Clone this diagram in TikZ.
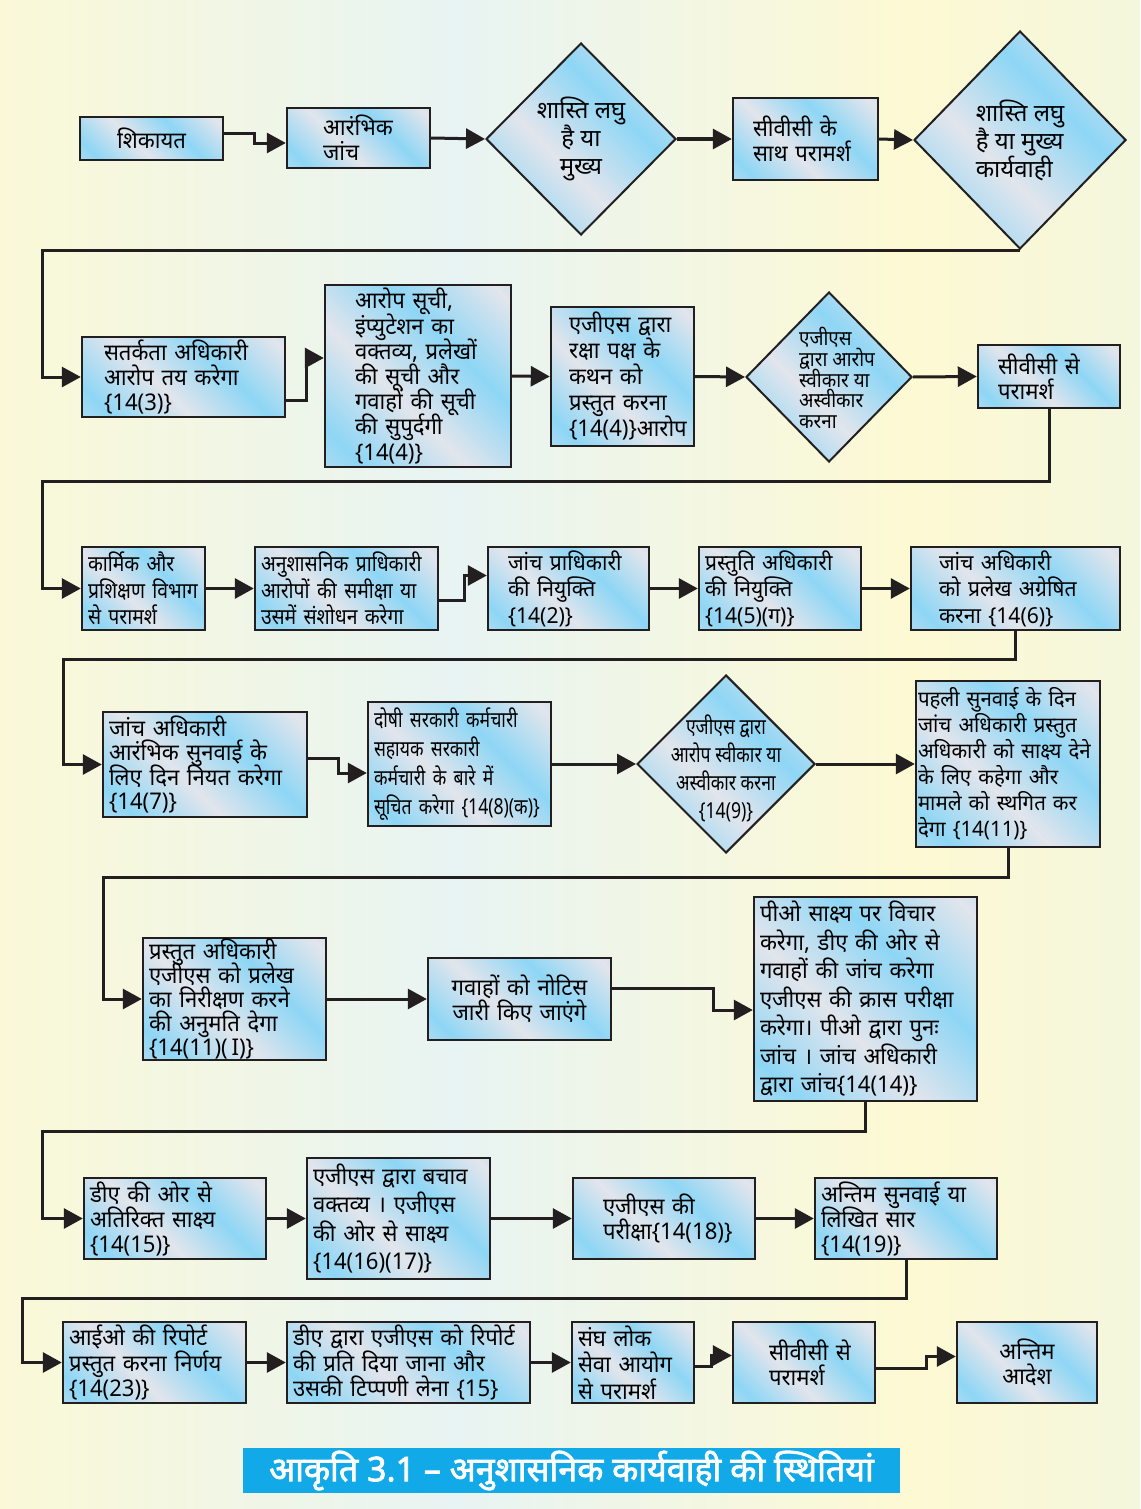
\documentclass[tikz,border=0pt]{standalone}
\usepackage{fontspec}
\usetikzlibrary{arrows.meta,shapes.geometric}
\newfontfamily\dev[Script=Devanagari,FakeStretch=0.96]{Noto Sans}
\newfontfamily\devm[Script=Devanagari,FakeStretch=0.88]{Noto Sans}
\newfontfamily\devd[Script=Devanagari,FakeStretch=0.92]{Noto Sans}
\newfontfamily\devc[Script=Devanagari,FakeStretch=0.8]{Noto Sans}
\newfontfamily\devw[Script=Devanagari,FakeStretch=1.0]{Noto Sans}
\newfontfamily\devb[Script=Devanagari,FakeStretch=1.0,FakeBold=2.2]{Noto Sans}
\lineskiplimit=-100pt
\definecolor{lc}{HTML}{231F20}
\definecolor{bgr}{HTML}{E2E5EC}
\definecolor{bbl}{HTML}{8ED6F5}
\definecolor{capblue}{HTML}{12A9E8}
\definecolor{bga}{HTML}{DDF0F8}
\definecolor{bgy}{HTML}{FDF9D3}
\definecolor{bgm}{HTML}{E8F4F3}
\pgfdeclarehorizontalshading{boxsh}{100bp}{color(0bp)=(bgr);color(22bp)=(bbl);color(42bp)=(bgr);color(62bp)=(bbl);color(82bp)=(bgr);color(100bp)=(bbl)}
\pgfdeclarehorizontalshading{bgsh}{100bp}{color(0bp)=(bga);color(22bp)=(bgy);color(45bp)=(bgm);color(65bp)=(bgy);color(100bp)=(bga)}
\newcommand\mybx[7][]{%
  \pgfmathsetmacro\bw{#5-#3}\pgfmathsetmacro\bh{#6-#4}%
  \pgfmathsetmacro\bcx{(#3+#5)/2}\pgfmathsetmacro\bcy{(#4+#6)/2}%
  \pgfmathsetmacro\btw{#5-#3-12}%
  \node[box,minimum width=\bw pt,minimum height=\bh pt,text width=\btw pt,#1] (#2) at (\bcx,\bcy) {#7};}
\begin{document}
\begin{tikzpicture}[x=1pt,y=-1pt,
  every node/.append style={execute at begin node={\lineskiplimit=-100pt\lineskip=0pt}},
  box/.style={draw=lc,line width=2.4pt,shading=boxsh,shading angle=45,inner sep=0pt,align=left,
    font=\dev\fontsize{23}{25}\selectfont},
  dia/.style={diamond,draw=lc,line width=2pt,shading=boxsh,shading angle=45,inner sep=0pt},
  lbl/.style={align=center,font=\devw\fontsize{24}{28}\selectfont},
  rowc/.style={font=\dev\fontsize{22}{26.5}\selectfont},
  arr/.style={draw=lc,line width=3pt,-{Triangle[length=19pt,width=20pt]}}]
\useasboundingbox (0,0) rectangle (1140,1509);
\shade[shading=bgsh] (0,0) rectangle (1140,1509);
% row 1
\mybx[align=center]{n1}{80}{117}{223}{160}{शिकायत}
\mybx{n2}{287}{108}{430}{168}{\hspace*{30pt}आरंभिक\\\hspace*{30pt}जांच}
\node[dia,minimum width=190pt,minimum height=192pt,label={[lbl]center:शास्ति लघु\\है या\\मुख्य}] (d1) at (581,139) {};
\mybx{n3}{733}{98}{878}{180}{\hspace*{14pt}सीवीसी के\\\hspace*{14pt}साथ परामर्श}
\node[dia,minimum width=212pt,minimum height=218pt,label={[lbl,align=left]center:शास्ति लघु\\है या मुख्य\\कार्यवाही}] (d2) at (1020,140) {};
% row 2
\mybx{n4}{82}{337}{285}{417}{\hspace*{16pt}सतर्कता अधिकारी\\\hspace*{16pt}आरोप तय करेगा\\\hspace*{16pt}\{14(3)\}}
\mybx[font=\dev\fontsize{23}{25.2}\selectfont]{n5}{325}{285}{511}{467}{\hspace*{24pt}आरोप सूची,\\\hspace*{24pt}इंप्युटेशन का\\\hspace*{24pt}वक्तव्य, प्रलेखों\\\hspace*{24pt}की सूची और\\\hspace*{24pt}गवाहों की सूची\\\hspace*{24pt}की सुपुर्दगी\\\hspace*{24pt}\{14(4)\}}
\mybx[font=\dev\fontsize{23}{26}\selectfont]{n6}{551}{307}{694}{446}{\hspace*{12pt}एजीएस द्वारा\\\hspace*{12pt}रक्षा पक्ष के\\\hspace*{12pt}कथन को\\\hspace*{12pt}प्रस्तुत करना\\\hspace*{12pt}\{14(4)\}आरोप}
\node[dia,minimum width=166pt,minimum height=170pt,label={[lbl,align=left,font=\devd\fontsize{20.5}{20.8}\selectfont,xshift=8pt,yshift=-1pt]center:एजीएस\\द्वारा आरोप\\स्वीकार या\\अस्वीकार\\करना}] (d3) at (829,377) {};
\mybx{n7}{978}{345}{1120}{408}{\hspace*{14pt}सीवीसी से\\\hspace*{14pt}परामर्श}
% row 3
\mybx[font=\devm\fontsize{22}{26.5}\selectfont]{n8}{82}{547}{205}{630}{कार्मिक और\\प्रशिक्षण विभाग\\से परामर्श}
\mybx[font=\devm\fontsize{22}{26.5}\selectfont]{n9}{255}{547}{438}{630}{अनुशासनिक प्राधिकारी\\आरोपों की समीक्षा या\\उसमें संशोधन करेगा}
\mybx[rowc]{n10}{488}{547}{649}{630}{\hspace*{14pt}जांच प्राधिकारी\\\hspace*{14pt}की नियुक्ति\\\hspace*{14pt}\{14(2)\}}
\mybx[rowc]{n11}{699}{547}{861}{630}{प्रस्तुति अधिकारी\\की नियुक्ति\\\{14(5)(ग)\}}
\mybx[rowc]{n12}{911}{547}{1120}{630}{\hspace*{22pt}जांच अधिकारी\\\hspace*{22pt}को प्रलेख अग्रेषित\\\hspace*{22pt}करना \{14(6)\}}
% row 4
\mybx[font=\dev\fontsize{23}{24.5}\selectfont]{n13}{103}{712}{307}{817}{जांच अधिकारी\\आरंभिक सुनवाई के\\लिए दिन नियत करेगा\\\{14(7)\}}
\mybx[font=\devc\fontsize{22}{29}\selectfont]{n14}{368}{702}{551}{826}{दोषी सरकारी कर्मचारी\\सहायक सरकारी\\कर्मचारी के बारे में\\सूचित करेगा \{14(8)(क)\}}
\node[dia,minimum width=178pt,minimum height=178pt,label={[lbl,font=\devc\fontsize{22}{28}\selectfont,yshift=-4pt]center:एजीएस द्वारा\\आरोप स्वीकार या\\अस्वीकार करना\\\{14(9)\}}] (d4) at (726,764) {};
\mybx[text width=180pt,font=\dev\fontsize{21.3}{26}\selectfont]{n15}{916}{681}{1100}{847}{पहली सुनवाई के दिन\\जांच अधिकारी प्रस्तुत\\अधिकारी को साक्ष्य देने\\के लिए कहेगा और\\मामले को स्थगित कर\\देगा \{14(11)\}}
% row 5
\mybx[font=\dev\fontsize{23}{24}\selectfont]{n16}{143}{938}{326}{1060}{प्रस्तुत अधिकारी\\एजीएस को प्रलेख\\का निरीक्षण करने\\की अनुमति देगा\\\{14(11)(\,I)\}}
\mybx[align=center]{n17}{428}{958}{611}{1040}{गवाहों को नोटिस\\जारी किए जाएंगे}
\mybx[font=\dev\fontsize{23}{28.5}\selectfont]{n18}{754}{897}{977}{1101}{पीओ साक्ष्य पर विचार\\करेगा, डीए की ओर से\\गवाहों की जांच करेगा\\एजीएस की क्रास परीक्षा\\करेगा। पीओ द्वारा पुनः\\जांच । जांच अधिकारी\\द्वारा जांच\{14(14)\}}
% row 6
\mybx{n19}{84}{1178}{266}{1259}{डीए की ओर से\\अतिरिक्त साक्ष्य\\\{14(15)\}}
\mybx[font=\dev\fontsize{23}{28.5}\selectfont]{n20}{307}{1158}{490}{1279}{एजीएस द्वारा बचाव\\वक्तव्य । एजीएस\\की ओर से साक्ष्य\\\{14(16)(17)\}}
\mybx{n21}{573}{1178}{755}{1259}{\hspace*{24pt}एजीएस की\\\hspace*{24pt}परीक्षा\{14(18)\}}
\mybx{n22}{815}{1178}{997}{1259}{अन्तिम सुनवाई या\\लिखित सार\\\{14(19)\}}
% row 7
\mybx[font=\dev\fontsize{23}{25.5}\selectfont]{n23}{63}{1322}{246}{1403}{आईओ की रिपोर्ट\\प्रस्तुत करना निर्णय\\\{14(23)\}}
\mybx[font=\dev\fontsize{23}{25.5}\selectfont]{n24}{287}{1322}{530}{1403}{डीए द्वारा एजीएस को रिपोर्ट\\की प्रति दिया जाना और\\उसकी टिप्पणी लेना \{15\}}
\mybx[font=\dev\fontsize{23}{26.5}\selectfont]{n25}{572}{1322}{694}{1403}{संघ लोक\\सेवा आयोग\\से परामर्श}
\mybx{n26}{733}{1322}{875}{1403}{\hspace*{30pt}सीवीसी से\\\hspace*{30pt}परामर्श}
\mybx[align=center]{n27}{957}{1322}{1097}{1403}{अन्तिम\\आदेश}
% caption
\node[fill=capblue,minimum width=657pt,minimum height=45pt,inner sep=0pt,text=white,
  font=\devb\fontsize{34}{36}\selectfont] (cap) at (571.5,1470.5) {आकृति 3.1 – अनुशासनिक कार्यवाही की स्थितियां};
% bend points
\coordinate (w1) at (42,0);
\coordinate (w2) at (42,481);
\coordinate (w3) at (63,659);
\coordinate (w4) at (103,877);
\coordinate (w5) at (42,1131);
\coordinate (w6) at (22,1298);
% connectors
\draw[arr] ([yshift=5pt]n1.east) -- ++(30,0) |- ([yshift=-5pt]n2.west);
\draw[arr] (n2.east) -- (d1.west);
\draw[arr] (d1.east) -- (n3.west);
\draw[arr] (n3.east) -- (d2.west);
\draw[arr] (d2.south) -- (d2.south -| w1) |- (n4.west);
\draw[arr] ([yshift=-23pt]n4.east) -- ++(20,0) |- ([yshift=18pt]n5.west);
\draw[arr] (n5.east) -- (n6.west);
\draw[arr] (n6.east) -- (d3.west);
\draw[arr] (d3.east) -- (n7.west);
\draw[arr] (n7.south) |- (w2) |- (n8.west);
\draw[arr] (n8.east) -- (n9.west);
\draw[arr] ([yshift=-12pt]n9.east) -- ++(25,0) |- ([yshift=13pt]n10.west);
\draw[arr] (n10.east) -- (n11.west);
\draw[arr] (n11.east) -- (n12.west);
\draw[arr] (n12.south) |- (w3) |- (n13.west);
\draw[arr] ([yshift=6pt]n13.east) -- ++(30,0) |- ([yshift=-9pt]n14.west);
\draw[arr] (n14.east) -- (d4.west);
\draw[arr] (d4.east) -- (n15.west);
\draw[arr] (n15.south) |- (w4) |- (n16.west);
\draw[arr] (n16.east) -- (n17.west);
\draw[arr] ([yshift=11pt]n17.east) -- ++(101,0) |- ([yshift=-11pt]n18.west);
\draw[arr] (n18.south) |- (w5) |- (n19.west);
\draw[arr] (n19.east) -- (n20.west);
\draw[arr] (n20.east) -- (n21.west);
\draw[arr] (n21.east) -- (n22.west);
\draw[arr] (n22.south) |- (w6) |- (n23.west);
\draw[arr] (n23.east) -- (n24.west);
\draw[arr] (n24.east) -- (n25.west);
\draw[arr] ([yshift=-4pt]n25.east) -- ++(16,0) |- ([yshift=7pt]n26.west);
\draw[arr] ([yshift=-6pt]n26.east) -- ++(50,0) |- ([yshift=6pt]n27.west);
\end{tikzpicture}
\end{document}
